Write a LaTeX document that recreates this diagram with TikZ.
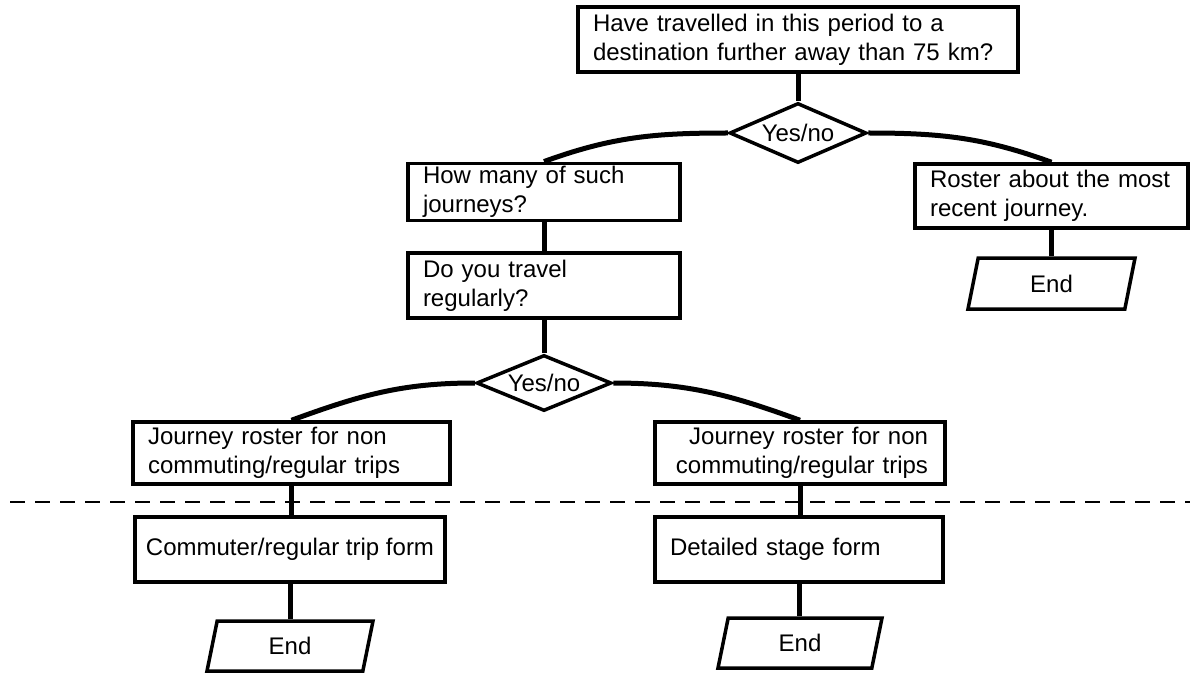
\documentclass[tikz,border=0pt]{standalone}
\usepackage{fontspec}
\setmainfont{Liberation Sans}
\usetikzlibrary{shapes.geometric}

\begin{document}
\begin{tikzpicture}[x=1pt,y=-1pt,
    every node/.style={font=\fontsize{24}{29}\selectfont},
    box/.style={draw, rectangle, line width=3.5pt, inner xsep=15pt, inner ysep=3pt, align=left},
    choice/.style={draw, diamond, line width=3.5pt, inner sep=0pt, label={center:Yes/no}},
    finish/.style={draw, trapezium, trapezium left angle=60, trapezium right angle=120,
                   trapezium stretches body, line width=3.5pt, inner sep=0pt},
    link/.style={line width=5pt}]
   % Page frame
   \useasboundingbox (0,0) rectangle (1190,676);

   % Upper part of the roster
   \node[box, text width=410pt, minimum height=65pt] (trip) at (798,39.5)
      {Have travelled in this period to a\\destination further away than 75 km?};
   \node[choice, minimum width=137pt, minimum height=60pt] (ask1) at (798,133) {};
   \node[box, text width=242pt, minimum height=56pt] (howmany) at (544,192)
      {How many of such\\journeys?};
   \node[box, text width=243pt, minimum height=64pt] (recent) at (1051.5,196)
      {Roster about the most\\recent journey.};
   \node[finish, minimum width=167pt, minimum height=51pt] (end1) at (1051.5,283.5) {End};
   \node[box, text width=242pt, minimum height=65pt] (regular) at (544,285.5)
      {Do you travel\\regularly?};
   \node[choice, minimum width=135pt, minimum height=56pt] (ask2) at (544,383) {};

   % Lower part of the roster
   \node[box, text width=287pt, minimum height=62pt] (nonreg) at (291.5,453)
      {Journey roster for non\\commuting/regular trips};
   \node[box, inner xsep=17pt, text width=256pt, minimum height=62pt, align=right] (nonreg2) at (800,453)
      {Journey roster for non\\commuting/regular trips};
   \node[box, inner xsep=5pt, minimum width=310pt, minimum height=65pt] (commute) at (290,549.5)
      {Commuter/regular trip form};
   \node[box, text width=258pt, minimum height=65pt] (stage) at (799,549.5)
      {Detailed stage form};
   \node[finish, minimum width=166pt, minimum height=50pt] (end2) at (290,646) {End};
   \node[finish, minimum width=164pt, minimum height=50pt] (end3) at (800,643) {End};

   % Connectors
   \draw[link] (trip.south) -- (ask1.north);
   \draw[link] (ask1.west) to[out=180,in=20] (howmany.north);
   \draw[link] (ask1.east) to[out=0,in=160] (recent.north);
   \draw[link] (recent.south) -- (recent.south |- end1.north);
   \draw[link] (howmany.south) -- (regular.north);
   \draw[link] (regular.south) -- (ask2.north);
   \draw[link] (ask2.west) to[out=180,in=20] (nonreg.north);
   \draw[link] (ask2.east) to[out=0,in=160] (nonreg2.north);
   \draw[link] (nonreg.south) -- (nonreg.south |- commute.north);
   \draw[link] (nonreg2.south) -- (nonreg2.south |- stage.north);
   \draw[link] (commute.south) -- (commute.south |- end2.north);
   \draw[link] (stage.south) -- (stage.south |- end3.north);

   % Cut line
   \coordinate (cutL) at (10,502);
   \coordinate (cutR) at (1190,502);
   \draw[line width=1.5pt, dash pattern=on 15pt off 10pt] (cutL) -- (cutR);
\end{tikzpicture}
\end{document}
